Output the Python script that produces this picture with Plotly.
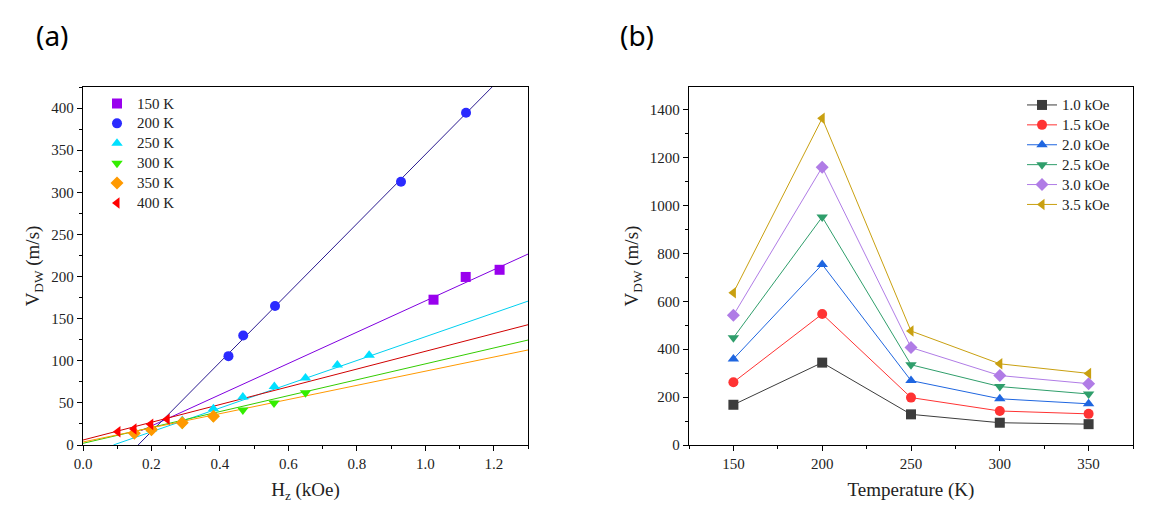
import plotly.graph_objects as go

# ---------------- Panel (a) data ----------------
temps_a = ["150 K", "200 K", "250 K", "300 K", "350 K", "400 K"]
hz_150 = [1.024, 1.118, 1.217]
v_150 = [172.5, 199.5, 208.0]
hz_200 = [0.425, 0.468, 0.561, 0.929, 1.119]
v_200 = [105.5, 130.0, 165.0, 312.5, 394.5]
hz_250 = [0.20, 0.29, 0.381, 0.467, 0.559, 0.650, 0.743, 0.836]
v_250 = [19.0, 29.0, 43.0, 57.0, 69.5, 79.5, 95.0, 106.5]
hz_300 = [0.20, 0.29, 0.38, 0.467, 0.558, 0.650]
v_300 = [17.0, 24.5, 33.0, 41.5, 50.0, 62.0]
hz_350 = [0.15, 0.20, 0.29, 0.381]
v_350 = [14.0, 18.0, 26.5, 34.0]
hz_400 = [0.102, 0.149, 0.198, 0.246]
v_400 = [15.8, 19.0, 24.5, 30.5]

# linear fits (slope, intercept, start field)
fit_slope = [185.5, 411.0, 141.0, 94.3, 84.0, 105.3]
fit_inter = [-14.5, -66.2, -12.5, 2.0, 3.6, 5.9]
fit_start = [0.17, 0.161, 0.089, 0.0, 0.0, 0.0]
fit_end = 1.3

# ---------------- Panel (b) data ----------------
temperature = [150, 200, 250, 300, 350]
fields_b = ["1.0 kOe", "1.5 kOe", "2.0 kOe", "2.5 kOe", "3.0 kOe", "3.5 kOe"]
v_10 = [168, 344, 128, 93, 87]
v_15 = [262, 547, 198, 142, 130]
v_20 = [359, 754, 269, 193, 172]
v_25 = [448, 952, 335, 244, 213]
v_30 = [542, 1160, 407, 290, 256]
v_35 = [636, 1364, 476, 339, 299]

# ---------------- styles ----------------
cols_a = ["#9900ee", "#2b2bff", "#00e0ff", "#33ee00", "#ff9900", "#ff0000"]
line_cols_a = ["#8000e0", "#2a1a90", "#00d0f0", "#33cc00", "#ff9900", "#d00000"]
syms_a = ["square", "circle", "triangle-up", "triangle-down", "diamond", "triangle-left"]
cols_b = ["#3c3c3c", "#ff3333", "#1f66e0", "#2f9e6b", "#b07ce6", "#c9a010"]
syms_b = ["square", "circle", "triangle-up", "triangle-down", "diamond", "triangle-left"]

serif = "Times New Roman"

def legend_label(s):
    # larger visible text while keeping compact row spacing
    return '<span style="font-size:15px">' + s + '</span>'

fig = go.Figure()

xs_a = [hz_150, hz_200, hz_250, hz_300, hz_350, hz_400]
ys_a = [v_150, v_200, v_250, v_300, v_350, v_400]

for i in range(6):
    x0, x1 = fit_start[i], fit_end
    fig.add_trace(go.Scatter(
        x=[x0, x1],
        y=[fit_slope[i] * x0 + fit_inter[i], fit_slope[i] * x1 + fit_inter[i]],
        mode="lines", line=dict(color=line_cols_a[i], width=1),
        showlegend=False, hoverinfo="skip", xaxis="x", yaxis="y"))

for i in range(6):
    fig.add_trace(go.Scatter(
        x=xs_a[i], y=ys_a[i], mode="markers", name=legend_label(temps_a[i]),
        marker=dict(symbol=syms_a[i], color=cols_a[i], size=10, line=dict(width=0)),
        xaxis="x", yaxis="y", legend="legend", cliponaxis=False))

vals_b = [v_10, v_15, v_20, v_25, v_30, v_35]
for i in range(6):
    fig.add_trace(go.Scatter(
        x=temperature, y=vals_b[i], mode="lines+markers", name=legend_label(fields_b[i]),
        line=dict(color=cols_b[i], width=1),
        marker=dict(symbol=syms_b[i], color=cols_b[i], size=10, line=dict(width=0)),
        xaxis="x2", yaxis="y2", legend="legend2"))

def minor(d):
    return dict(ticks="outside", ticklen=3, tickwidth=1, tickcolor="black", dtick=d)

tick_font = dict(family=serif, size=15, color="#222")
axis_common = dict(
    showgrid=False, zeroline=False, showline=True, linecolor="black", linewidth=1.3,
    mirror=True, ticks="outside", ticklen=5, tickwidth=1, tickcolor="black",
    automargin=False, tickfont=tick_font,
)

# page body has an 8px margin; positions below are reference pixels
OFF = 8
W, H = 1150 - OFF, 515 - OFF
def dx(a, b):
    return [(a - OFF) / W, (b - OFF) / W]
def dy(top, bottom):
    return [(H - (bottom - OFF)) / H, (H - (top - OFF)) / H]
def px(x):
    return (x - OFF) / W
def py(y):
    return (H - (y - OFF)) / H

title_font = dict(family=serif, size=19, color="#222")
legend_font = dict(family=serif, size=13, color="#222")

fig.update_layout(
    width=W, height=H,
    font=dict(family=serif, size=14, color="#222"),
    margin=dict(l=0, r=0, t=0, b=0, autoexpand=False),
    paper_bgcolor="white", plot_bgcolor="white",
    xaxis=dict(axis_common, domain=dx(83, 528), range=[0, 1.3], dtick=0.2,
               tickformat=".1f", anchor="y", minor=minor(0.1),
               title=dict(text="H<sub>z</sub> (kOe)", font=title_font, standoff=11)),
    yaxis=dict(axis_common, domain=dy(87, 445), range=[0, 425], dtick=50, anchor="x",
               minor=minor(25),
               title=dict(text="V<sub>DW</sub> (m/s)", font=title_font, standoff=6)),
    xaxis2=dict(axis_common, domain=dx(689, 1133), range=[125, 375], dtick=50, anchor="y2",
                minor=minor(25),
                title=dict(text="Temperature (K)", font=title_font, standoff=11)),
    yaxis2=dict(axis_common, domain=dy(87, 445), range=[0, 1495], dtick=200, anchor="x2",
                minor=minor(100),
                title=dict(text="V<sub>DW</sub> (m/s)", font=title_font, standoff=6)),
    legend=dict(x=px(97), y=py(88.5), xanchor="left", yanchor="top",
                bgcolor="rgba(0,0,0,0)", font=legend_font,
                tracegroupgap=0, itemsizing="trace"),
    legend2=dict(x=px(1022), y=py(90), xanchor="left", yanchor="top",
                 bgcolor="rgba(0,0,0,0)", font=legend_font,
                 tracegroupgap=0, itemsizing="trace"),
    annotations=[
        dict(text="(a)", x=px(52), y=py(35), xref="paper", yref="paper",
             xanchor="center", yanchor="middle",
             showarrow=False, font=dict(family="Noto Sans", size=28, color="black")),
        dict(text="(b)", x=px(637), y=py(35), xref="paper", yref="paper",
             xanchor="center", yanchor="middle",
             showarrow=False, font=dict(family="Noto Sans", size=28, color="black")),
    ],
    showlegend=True,
)

fig.write_html("out.html")
